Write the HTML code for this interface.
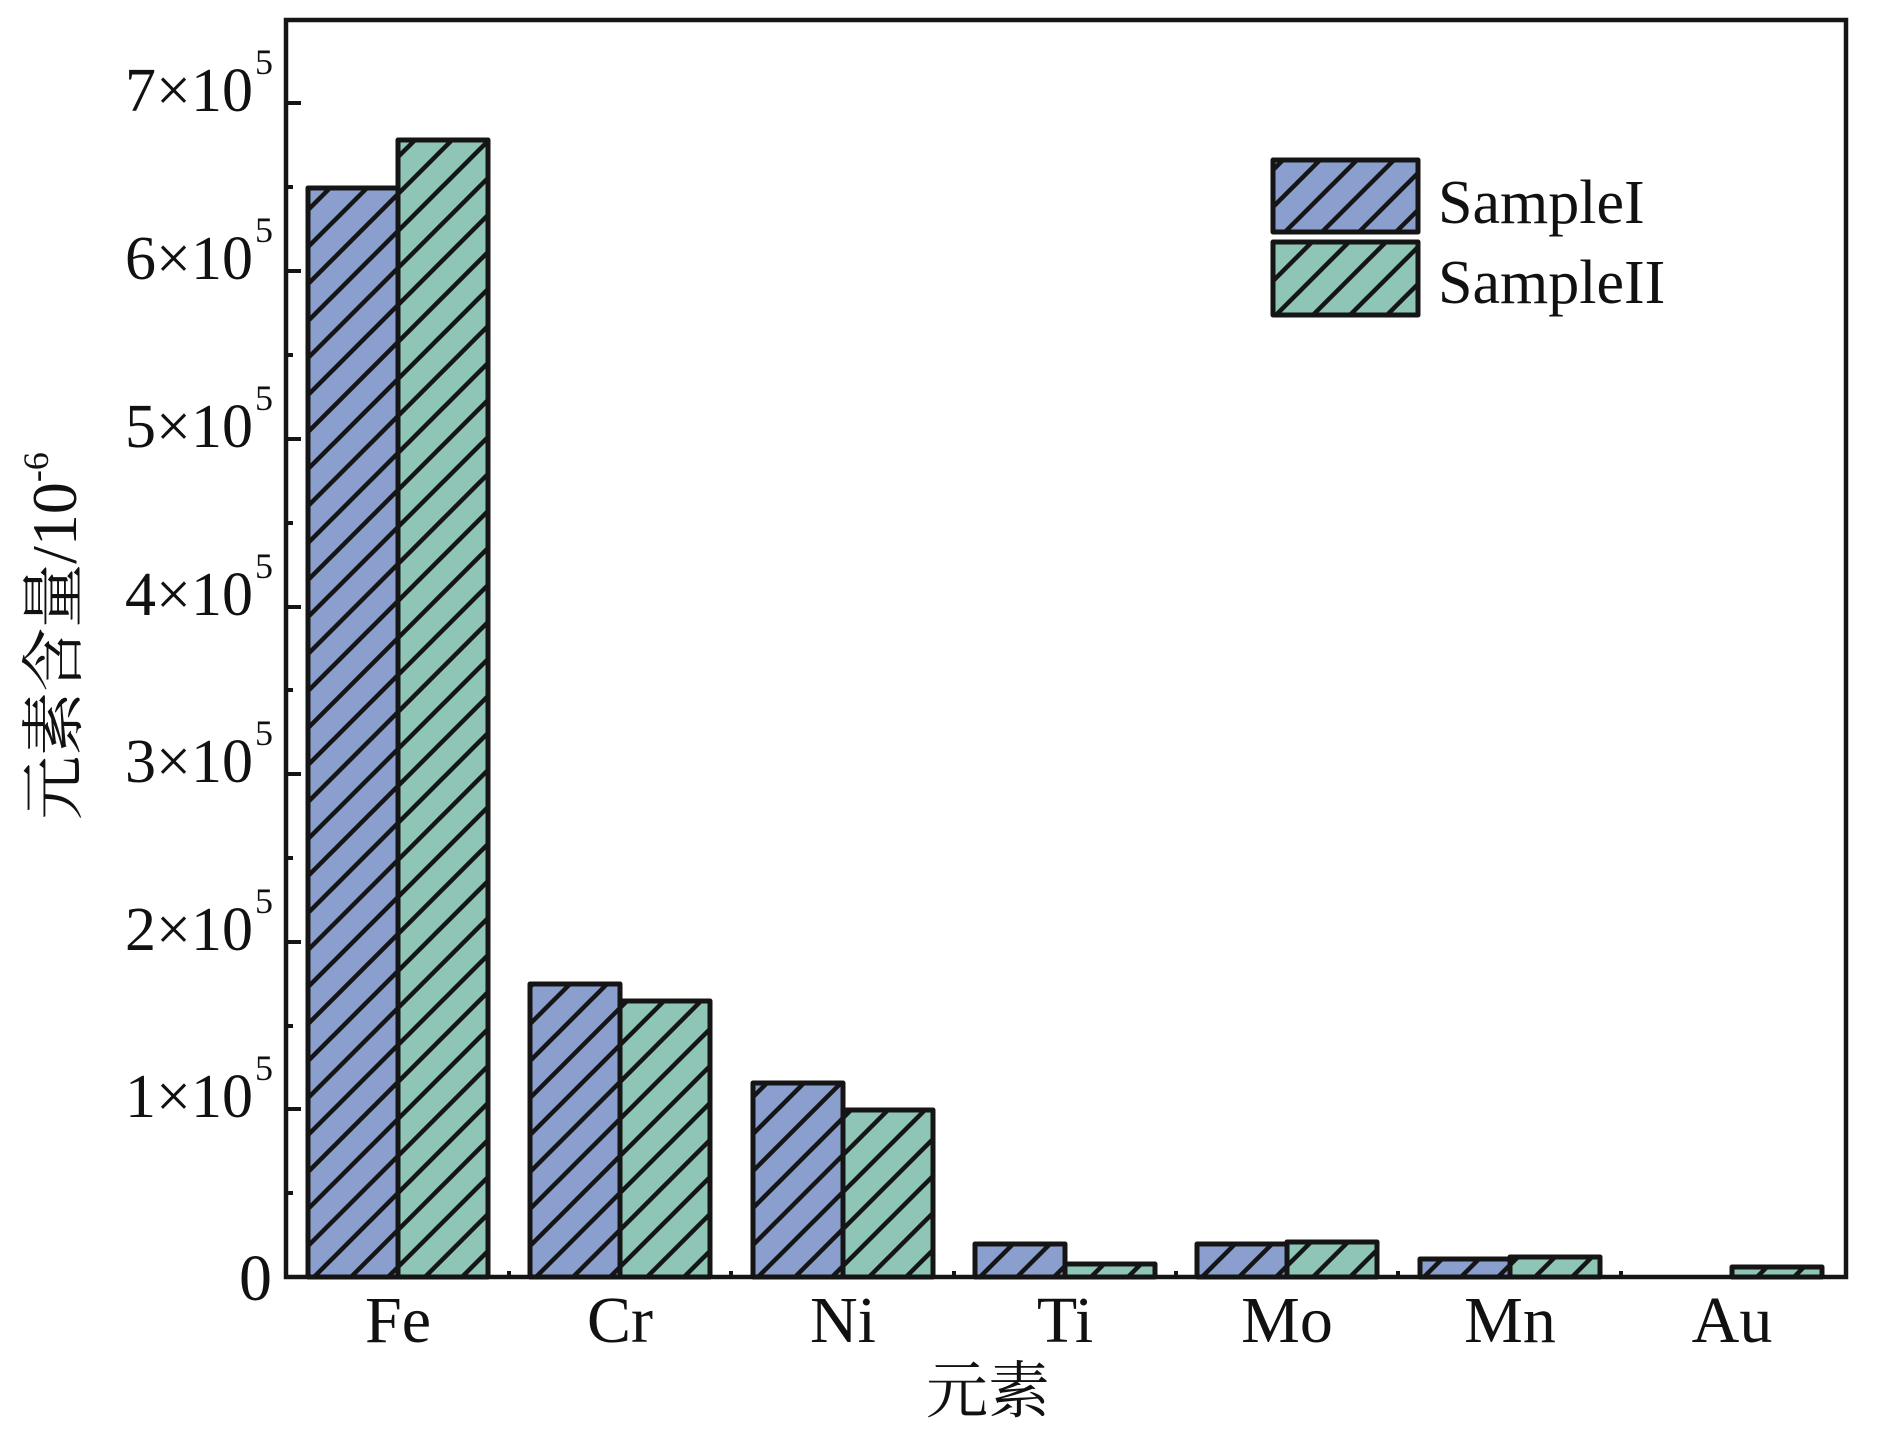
<!DOCTYPE html>
<html><head><meta charset="utf-8"><style>
html,body{margin:0;padding:0;background:#fff;}
svg{display:block;}
text{font-family:"Liberation Serif","Noto Serif CJK SC",serif;fill:#111;}
</style></head><body>
<svg width="1890" height="1441" viewBox="0 0 1890 1441" xmlns="http://www.w3.org/2000/svg">
<defs>
<pattern id="hb" patternUnits="userSpaceOnUse" width="37" height="37">
<rect width="37" height="37" fill="#8a9fcd"/>
<path d="M-5,42 L42,-5 M-5,5 L5,-5 M32,42 L42,32" stroke="#151515" stroke-width="4.5"/>
</pattern>
<pattern id="hg" patternUnits="userSpaceOnUse" width="37" height="37">
<rect width="37" height="37" fill="#8ec5b6"/>
<path d="M-5,42 L42,-5 M-5,5 L5,-5 M32,42 L42,32" stroke="#151515" stroke-width="4.5"/>
</pattern>
</defs>
<g stroke="#151515" stroke-width="5" stroke-linejoin="round">
<rect x="308" y="188" width="90" height="1089" fill="url(#hb)"/>
<rect x="398" y="140" width="90" height="1137" fill="url(#hg)"/>
<rect x="530" y="984" width="90" height="293" fill="url(#hb)"/>
<rect x="620" y="1001" width="90" height="276" fill="url(#hg)"/>
<rect x="753" y="1083" width="90" height="194" fill="url(#hb)"/>
<rect x="843" y="1110" width="90" height="167" fill="url(#hg)"/>
<rect x="975" y="1244" width="90" height="33" fill="url(#hb)"/>
<rect x="1065" y="1264" width="90" height="13" fill="url(#hg)"/>
<rect x="1197" y="1244" width="90" height="33" fill="url(#hb)"/>
<rect x="1287" y="1242" width="90" height="35" fill="url(#hg)"/>
<rect x="1420" y="1259" width="90" height="18" fill="url(#hb)"/>
<rect x="1510" y="1257" width="90" height="20" fill="url(#hg)"/>
<rect x="1732" y="1267" width="90" height="10" fill="url(#hg)"/>
<rect x="1273" y="160" width="145" height="72" fill="url(#hb)"/>
<rect x="1273" y="242" width="145" height="73" fill="url(#hg)"/>
</g>
<rect x="286" y="20" width="1560" height="1257" fill="none" stroke="#151515" stroke-width="4.5"/>
<g stroke="#151515" stroke-width="4">
<line x1="286" y1="103" x2="301" y2="103"/>
<line x1="286" y1="271" x2="301" y2="271"/>
<line x1="286" y1="439" x2="301" y2="439"/>
<line x1="286" y1="607" x2="301" y2="607"/>
<line x1="286" y1="774" x2="301" y2="774"/>
<line x1="286" y1="942" x2="301" y2="942"/>
<line x1="286" y1="1109" x2="301" y2="1109"/>
<line x1="286" y1="187" x2="293" y2="187"/>
<line x1="286" y1="355" x2="293" y2="355"/>
<line x1="286" y1="523" x2="293" y2="523"/>
<line x1="286" y1="690" x2="293" y2="690"/>
<line x1="286" y1="858" x2="293" y2="858"/>
<line x1="286" y1="1026" x2="293" y2="1026"/>
<line x1="286" y1="1193" x2="293" y2="1193"/>
<line x1="509" y1="1277" x2="509" y2="1271"/>
<line x1="731" y1="1277" x2="731" y2="1271"/>
<line x1="954" y1="1277" x2="954" y2="1271"/>
<line x1="1176" y1="1277" x2="1176" y2="1271"/>
<line x1="1398" y1="1277" x2="1398" y2="1271"/>
<line x1="1621" y1="1277" x2="1621" y2="1271"/>
</g>
<g font-size="62" text-anchor="end">
<text x="253" y="111">7×10</text><text x="255" y="74" font-size="36" text-anchor="start">5</text>
<text x="253" y="279">6×10</text><text x="255" y="242" font-size="36" text-anchor="start">5</text>
<text x="253" y="447">5×10</text><text x="255" y="410" font-size="36" text-anchor="start">5</text>
<text x="253" y="615">4×10</text><text x="255" y="578" font-size="36" text-anchor="start">5</text>
<text x="253" y="782">3×10</text><text x="255" y="745" font-size="36" text-anchor="start">5</text>
<text x="253" y="950">2×10</text><text x="255" y="913" font-size="36" text-anchor="start">5</text>
<text x="253" y="1117">1×10</text><text x="255" y="1080" font-size="36" text-anchor="start">5</text>
<text x="272" y="1300" font-size="66">0</text>
</g>
<g font-size="66" text-anchor="middle">
<text x="398" y="1342">Fe</text>
<text x="620" y="1342">Cr</text>
<text x="843" y="1342">Ni</text>
<text x="1065" y="1342">Ti</text>
<text x="1287" y="1342">Mo</text>
<text x="1510" y="1342">Mn</text>
<text x="1732" y="1342">Au</text>
</g>
<text x="988" y="1412" font-size="62" text-anchor="middle">元素</text>
<text transform="translate(76,636) rotate(-90)" font-size="64" text-anchor="middle">元素含量/10<tspan font-size="36" dy="-28">-6</tspan></text>
<text x="1438" y="223" font-size="62">SampleI</text>
<text x="1438" y="303" font-size="62">SampleII</text>
</svg>
</body></html>
